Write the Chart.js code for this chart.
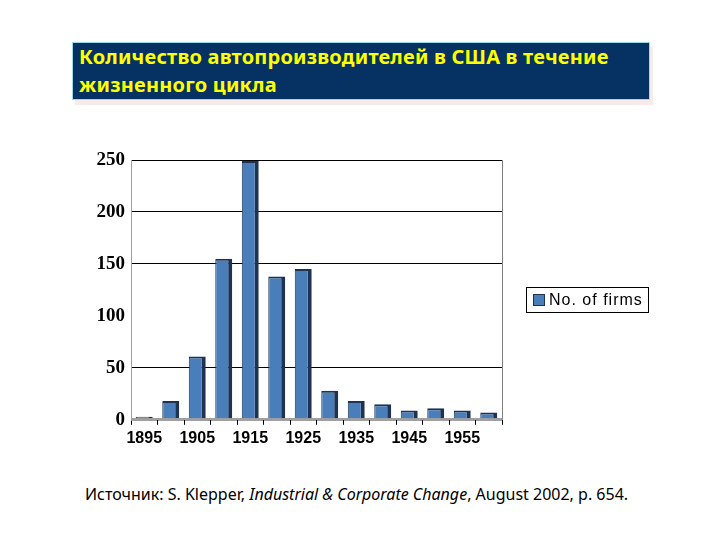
<!DOCTYPE html>
<html>
<head>
<meta charset="utf-8">
<script src="https://cdn.jsdelivr.net/npm/chart.js@4.4.0/dist/chart.umd.min.js"></script>
<style>
  body { margin: 0; width: 720px; height: 540px; background: #fff; position: relative; overflow: hidden; }
  #title {
    position: absolute; left: 72px; top: 42px; width: 570px; height: 56px;
    background: #053263; color: #ffff00; padding: 0 0 0 6px;
    font-family: "Noto Sans", sans-serif; font-weight: bold; font-size: 20px; line-height: 28px;
    letter-spacing: 0.2px;
    border: 1px solid #9fd8e8; box-shadow: 3px 5px 0 #f6ebe8;
  }
  #wrap { position: absolute; left: 80px; top: 140px; width: 570px; height: 312px; }
  #source {
    position: absolute; left: 85px; top: 483px;
    font-family: "Noto Sans", sans-serif; font-size: 16px; color: #000;
  }
</style>
</head>
<body>
<div id="title">Количество автопроизводителей в США в течение<br>жизненного цикла</div>
<div id="wrap"><canvas id="firmsChart"></canvas></div>
<div id="source">Источник: S. Klepper, <i>Industrial &amp; Corporate Change</i>, August 2002, p. 654.</div>
<script>
// years on the x axis (every 5 years), only every other one is labelled
const years = ['1895', '1900', '1905', '1910', '1915', '1920', '1925', '1930', '1935', '1940', '1945', '1950', '1955', '1960'];
const firms = [3, 18, 61, 155, 249, 138, 145, 28, 18, 15, 9, 11, 9, 7];
const yTicks = [0, 50, 100, 150, 200, 250];
const seriesLabel = 'No. of firms';

const barFace = '#4a7ebb';
const barEdge = '#1e3352';

// legend box + right border of the plot, drawn by hand
const framePlugin = {
  id: 'frame',
  afterDraw(chart) {
    const { ctx, chartArea } = chart;
    ctx.save();
    // right edge of the plot area
    ctx.strokeStyle = '#808080';
    ctx.lineWidth = 1;
    ctx.beginPath();
    ctx.moveTo(chartArea.right + 0.5, chartArea.top);
    ctx.lineTo(chartArea.right + 0.5, chartArea.bottom);
    ctx.stroke();

    // legend
    const lx = chartArea.right + 24, ly = chartArea.top + 127, lw = 122, lh = 25;
    ctx.fillStyle = '#fff';
    ctx.fillRect(lx, ly, lw, lh);
    ctx.strokeStyle = '#000';
    ctx.strokeRect(lx + 0.5, ly + 0.5, lw, lh);
    ctx.fillStyle = barFace;
    ctx.fillRect(lx + 7, ly + 7, 11, 11);
    ctx.strokeStyle = barEdge;
    ctx.strokeRect(lx + 7.5, ly + 7.5, 11, 11);
    ctx.fillStyle = '#000';
    ctx.font = '16px "Liberation Sans", Arial, sans-serif';
    ctx.letterSpacing = '1px';
    ctx.textBaseline = 'middle';
    ctx.fillText(seriesLabel, lx + 23, ly + lh / 2 + 1);
    ctx.restore();
  }
};

const ctx = document.getElementById('firmsChart');
new Chart(ctx, {
  type: 'bar',
  data: {
    labels: years,
    datasets: [{
      label: seriesLabel,
      data: firms,
      backgroundColor: barFace,
      borderColor: barEdge,
      borderWidth: { top: 2, right: 4, left: 1, bottom: 0 },
      borderSkipped: 'bottom',
      barPercentage: 0.64,
      categoryPercentage: 1
    }]
  },
  options: {
    responsive: true,
    maintainAspectRatio: false,
    animation: false,
    layout: { padding: { top: 20, right: 148, bottom: 0, left: 0 } },
    plugins: {
      legend: { display: false },
      tooltip: { enabled: false }
    },
    scales: {
      y: {
        min: 0,
        max: 250,
        afterBuildTicks: scale => { scale.ticks = yTicks.map(v => ({ value: v })); },
        afterFit: scale => { scale.width = 51; },
        border: { display: true, color: '#a0a0a0', width: 1 },
        grid: {
          // the reference has no line at 100, and a grey floor at 0
          color: c => c.tick.value === 100 ? 'rgba(0,0,0,0)' : (c.tick.value === 0 ? '#a0a0a0' : '#000'),
          lineWidth: c => c.tick.value === 0 ? 3 : 1,
          drawTicks: false
        },
        ticks: {
          color: '#000',
          padding: 6,
          font: { family: '"Liberation Serif", "Times New Roman", serif', weight: 'bold', size: 19 }
        }
      },
      x: {
        border: { display: false },
        grid: {
          drawOnChartArea: false,
          drawTicks: true,
          tickLength: 5,
          color: '#000',
          offset: true
        },
        ticks: {
          color: '#000',
          autoSkip: false,
          maxRotation: 0,
          padding: 4,
          font: { family: '"Liberation Sans", Arial, sans-serif', weight: 'bold', size: 16 },
          callback: (val, i) => i % 2 === 0 ? years[i] : ''
        }
      }
    }
  },
  plugins: [framePlugin]
});
</script>
</body>
</html>
